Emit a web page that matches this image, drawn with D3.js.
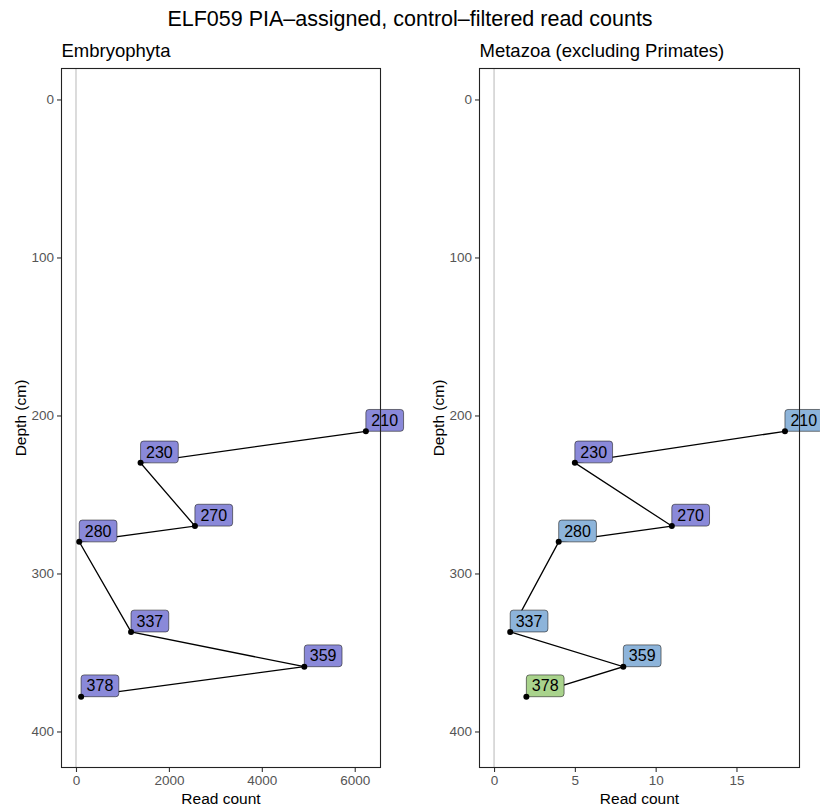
<!DOCTYPE html>
<html>
<head>
<meta charset="utf-8">
<script src="https://cdn.jsdelivr.net/npm/d3@7"></script>
<style>
  body { margin: 0; background: #fff; }
  text { font-family: "Liberation Sans", Arial, Helvetica, sans-serif; }
</style>
</head>
<body>
<div id="chart"></div>
<script>

// depth of each sample (cm)
var depths = [210, 230, 270, 280, 337, 359, 378];

// read counts per panel
var plantCounts = [6240, 1390, 2560, 70, 1185, 4915, 110];
var metazoaCounts = [18, 5, 11, 4, 1, 8, 2];

// label colour groups
var plantGroups = ["a", "a", "a", "a", "a", "a", "a"];
var metazoaGroups = ["b", "a", "a", "b", "b", "b", "c"];
var groupNames = ["a", "b", "c"];
var groupColors = ["#8a89d9", "#8db4da", "#a9d38c"];

// tick values
var plantTicks = [0, 2000, 4000, 6000];
var metazoaTicks = [0, 5, 10, 15];
var depthTicks = [0, 100, 200, 300, 400];

var width = 820, height = 810;

var svg = d3.select("#chart").append("svg")
    .attr("width", width)
    .attr("height", height);

var fill = d3.scaleOrdinal()
    .domain(groupNames)
    .range(groupColors);

// main title
svg.append("text")
    .attr("x", 410)
    .attr("y", 26)
    .attr("text-anchor", "middle")
    .attr("font-size", "21.5px")
    .attr("fill", "#000")
    .text("ELF059 PIA\u2013assigned, control\u2013filtered read counts");

var y = d3.scaleLinear()
    .domain([-19.6, 422.8])
    .range([68.5, 767.5]);

// draws one panel
function drawPanel(opt) {
  var x = d3.scaleLinear()
      .domain(opt.xDomain)
      .range([opt.left, opt.right]);

  var g = svg.append("g");

  // panel title
  g.append("text")
      .attr("x", opt.left)
      .attr("y", 56.5)
      .attr("font-size", "18.5px")
      .text(opt.title);

  // zero line
  g.append("line")
      .attr("x1", x(0)).attr("x2", x(0))
      .attr("y1", y.range()[0]).attr("y2", y.range()[1])
      .attr("stroke", "#bebebe")
      .attr("stroke-width", 1.1);

  // x axis
  var xAxis = g.append("g")
      .attr("transform", "translate(0," + y.range()[1] + ")")
      .call(d3.axisBottom(x).tickValues(opt.ticks).tickFormat(d3.format("d"))
        .tickSizeInner(4.5).tickSizeOuter(0).tickPadding(3));
  xAxis.select(".domain").remove();
  xAxis.selectAll("line").attr("stroke", "#333").attr("stroke-width", 1.1);
  xAxis.selectAll("text")
      .attr("font-size", "13.5px")
      .attr("fill", "#555")
      .attr("font-family", "Liberation Sans, Arial, sans-serif");

  // y axis
  var yAxis = g.append("g")
      .attr("transform", "translate(" + opt.left + ",0)")
      .call(d3.axisLeft(y).tickValues(depthTicks).tickFormat(d3.format("d"))
        .tickSizeInner(4.5).tickSizeOuter(0).tickPadding(3));
  yAxis.select(".domain").remove();
  yAxis.selectAll("line").attr("stroke", "#333").attr("stroke-width", 1.1);
  yAxis.selectAll("text")
      .attr("font-size", "13.5px")
      .attr("fill", "#555")
      .attr("font-family", "Liberation Sans, Arial, sans-serif");

  // axis titles
  g.append("text")
      .attr("x", (opt.left + opt.right) / 2)
      .attr("y", 803.5)
      .attr("text-anchor", "middle")
      .attr("font-size", "15.5px")
      .text("Read count");

  g.append("text")
      .attr("transform", "translate(" + (opt.left - 36) + "," + ((y.range()[0] + y.range()[1]) / 2) + ")rotate(-90)")
      .attr("text-anchor", "middle")
      .attr("font-size", "15.5px")
      .text("Depth (cm)");

  var data = depths.map(function(d, i) {
    return { depth: d, count: opt.counts[i], group: opt.groups[i] };
  });

  // connecting line
  g.append("path")
      .datum(data)
      .attr("d", d3.line()
        .x(function(d) { return x(d.count); })
        .y(function(d) { return y(d.depth); }))
      .attr("fill", "none")
      .attr("stroke", "#000")
      .attr("stroke-width", 1.3);

  // labels
  var lab = g.selectAll(".lab")
      .data(data)
    .enter().append("g")
      .attr("class", "lab")
      .attr("transform", function(d) { return "translate(" + x(d.count) + "," + y(d.depth) + ")"; });

  lab.append("rect")
      .attr("y", -21.8)
      .attr("height", 21.8)
      .attr("rx", 3).attr("ry", 3)
      .attr("fill", function(d) { return fill(d.group); })
      .attr("stroke", "#222")
      .attr("stroke-width", 0.6);

  var texts = lab.append("text")
      .attr("y", -5.3)
      .attr("text-anchor", "middle")
      .attr("font-size", "16px")
      .attr("fill", "#000")
      .text(function(d) { return d.depth; });

  texts.each(function(d) {
    var w = this.getComputedTextLength() + 11;
    d3.select(this).attr("x", w / 2);
    d3.select(this.parentNode).select("rect").attr("width", w);
  });

  // points
  g.selectAll(".pt")
      .data(data)
    .enter().append("circle")
      .attr("cx", function(d) { return x(d.count); })
      .attr("cy", function(d) { return y(d.depth); })
      .attr("r", 3)
      .attr("fill", "#000");

  // panel border
  g.append("rect")
      .attr("x", opt.left)
      .attr("y", y.range()[0])
      .attr("width", opt.right - opt.left)
      .attr("height", y.range()[1] - y.range()[0])
      .attr("fill", "none")
      .attr("stroke", "#222")
      .attr("stroke-width", 1.1);
}

drawPanel({
  title: "Embryophyta",
  counts: plantCounts,
  groups: plantGroups,
  ticks: plantTicks,
  xDomain: [-312, 6555],
  left: 61.5,
  right: 380.5
});

drawPanel({
  title: "Metazoa (excluding Primates)",
  counts: metazoaCounts,
  groups: metazoaGroups,
  ticks: metazoaTicks,
  xDomain: [-0.9, 18.9],
  left: 479.5,
  right: 799.5
});

</script>
</body>
</html>
